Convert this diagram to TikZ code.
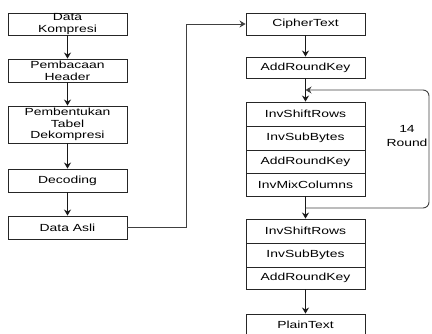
\documentclass[tikz,border=0pt]{standalone}
\usepackage{fontspec}
\setmainfont{Liberation Sans}[FakeStretch=1.35]
\usetikzlibrary{arrows.meta}
\begin{document}
\begin{tikzpicture}[x=1pt,y=-1pt,
  box/.style={draw=black!85, line width=0.9pt, minimum width=119pt, inner sep=0pt, align=center,
    font=\fontsize{10.3}{11.8}\selectfont, text=black},
  arr/.style={draw=black!90, line width=0.9pt, -{Stealth[length=6pt,width=7pt]}},
  loopline/.style={arr, draw=black!75, rounded corners=6pt}]
\useasboundingbox (0,0) rectangle (432,333);
% left column
\node[box, minimum height=22] (dk)  at (67.5,24)    {Data\\Kompresi};
\node[box, minimum height=23] (ph)  at (67.5,70.5)  {Pembacaan\\Header};
\node[box, minimum height=37] (ptd) at (67.5,124.5) {Pembentukan\\Tabel\\Dekompresi};
\node[box, minimum height=23] (dec) at (67.5,180.5) {Decoding};
\node[box, minimum height=23] (da)  at (67.5,227.5) {Data Asli};
\draw[arr] (dk) -- (ph);
\draw[arr] (ph) -- (ptd);
\draw[arr] (ptd) -- (dec);
\draw[arr] (dec) -- (da);
% right column
\node[box, minimum height=22] (ct)  at (305.5,24)   {CipherText};
\node[box, minimum height=21] (ark) at (305.5,67.5) {AddRoundKey};
\node[box, minimum height=24] (r1)  at (305.5,114)  {InvShiftRows};
\node[box, minimum height=24] (r2)  at (305.5,138)  {InvSubBytes};
\node[box, minimum height=23] (r3)  at (305.5,161.5){AddRoundKey};
\node[box, minimum height=23] (r4)  at (305.5,184.5){InvMixColumns};
\node[box, minimum height=24] (s1)  at (305.5,231)  {InvShiftRows};
\node[box, minimum height=24] (s2)  at (305.5,255)  {InvSubBytes};
\node[box, minimum height=22] (s3)  at (305.5,278)  {AddRoundKey};
\node[box, minimum height=22] (pt)  at (305.5,325)  {PlainText};
\node[align=center, font=\fontsize{10.3}{14}\selectfont, text=black] (lbl) at (407,136) {14\\Round};
% connectors
\draw[loopline, rounded corners=0pt] (da.east) -- ++(58.5,0) |- (ct.west);
\draw[arr] (ct) -- (ark);
\draw[arr] (ark) -- (r1);
\draw[arr] (r4) -- (s1);
\draw[arr] (s3) -- (pt);
\coordinate (lb) at (305.5,208);
\coordinate (lt) at (305.5,90);
\draw[loopline] (lb) -- (429,208) -- (429,90) -- (lt);
\end{tikzpicture}
\end{document}
